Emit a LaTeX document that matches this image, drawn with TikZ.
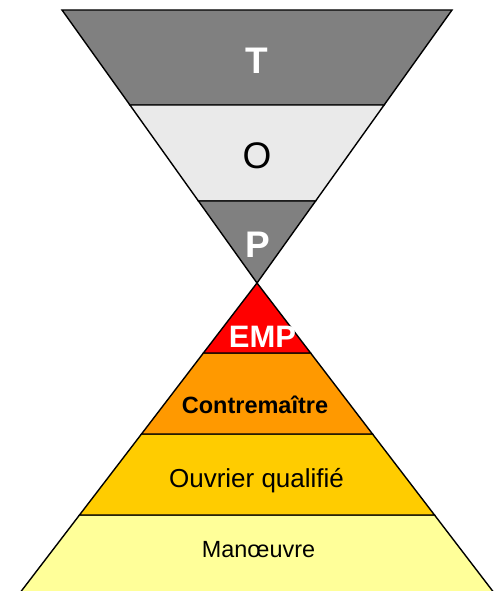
\documentclass[tikz,border=0pt]{standalone}
\usepackage{fontspec}
\setmainfont{Liberation Sans}
\definecolor{tgray}{HTML}{808080}
\definecolor{ogray}{HTML}{EAEAEA}
\definecolor{empred}{HTML}{FF0000}
\definecolor{corange}{HTML}{FF9900}
\definecolor{oyellow}{HTML}{FFCC00}
\definecolor{myellow}{HTML}{FFFF99}
\tikzset{
  band/.style={draw=black, line width=1.4pt, line join=miter},
  lbl/.style={anchor=base, inner sep=0pt},
}
\begin{document}
\begin{tikzpicture}[x=1pt,y=-1pt]
\clip (0,0) rectangle (502,591);
% upper inverted triangle
\filldraw[band, fill=tgray] (62,10) -- (452,10) -- (384.1,105) -- (129.9,105) -- cycle;
\filldraw[band, fill=ogray] (129.9,105) -- (384.1,105) -- (315.6,201) -- (198.4,201) -- cycle;
\filldraw[band, fill=tgray] (198.4,201) -- (315.6,201) -- (257,283) -- cycle;
% lower pyramid
\filldraw[band, fill=myellow] (79.5,515) -- (434.5,515) -- (499.5,600) -- (14.5,600) -- cycle;
\filldraw[band, fill=oyellow] (141.5,434) -- (372.5,434) -- (434.5,515) -- (79.5,515) -- cycle;
\filldraw[band, fill=corange] (203.4,353) -- (310.6,353) -- (372.5,434) -- (141.5,434) -- cycle;
\filldraw[band, fill=empred] (257,283) -- (310.6,353) -- (203.4,353) -- cycle;
% labels
\node[lbl, text=white, font=\fontsize{37}{40}\selectfont\bfseries] (t) at (257,74) {T};
\node[lbl, text=black, font=\fontsize{37}{40}\selectfont] (o) at (257,168.5) {O};
\node[lbl, text=white, font=\fontsize{37}{40}\selectfont\bfseries] (p) at (258,257) {P};
\node[lbl, text=white, font=\fontsize{31}{34}\selectfont\bfseries] (emp) at (262.5,347) {EMP};
\node[lbl, text=black, font=\fontsize{23.5}{26}\selectfont\bfseries] (contre) at (255,413) {Contremaître};
\node[lbl, text=black, font=\fontsize{26}{30}\selectfont] (ouvrier) at (256.5,487) {Ouvrier qualifié};
\node[lbl, text=black, font=\fontsize{23.4}{26}\selectfont] (manoeuvre) at (258.5,557) {Manœuvre};
\end{tikzpicture}
\end{document}
